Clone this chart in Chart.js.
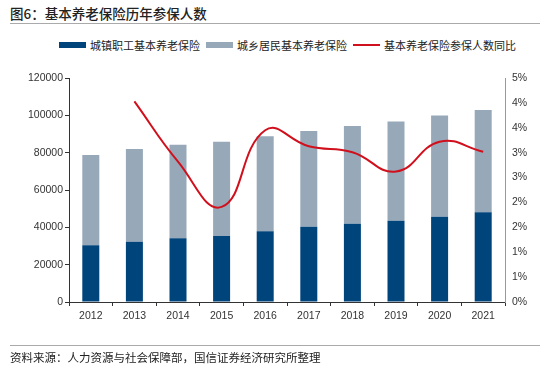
<!DOCTYPE html>
<html>
<head>
<meta charset="utf-8">
<script src="https://cdn.jsdelivr.net/npm/chart.js@4"></script>
<style>
  html, body { margin: 0; padding: 0; background: #fff; }
  body { width: 550px; height: 374px; position: relative; overflow: hidden;
         font-family: "Noto Sans CJK SC", "Liberation Sans", sans-serif; color: #222; }
  #title { position: absolute; left: 10px; top: 3px; font-size: 13.5px; font-weight: 500; }
  .rule { position: absolute; left: 10px; width: 530px; height: 1px; background: #aaa; }
  #legend { position: absolute; top: 37px; left: 59px; font-size: 11px; display: flex; align-items: center; white-space: nowrap; }
  #legend span.key { display: inline-block; width: 27px; margin-right: 4px; }
  #legend span.txt { margin-right: 6px; }
  #source { position: absolute; left: 10px; top: 349px; font-size: 11.5px; }
  #wrap { position: absolute; left: 0; top: 0; width: 550px; height: 374px; }
</style>
</head>
<body>
<div id="title">图6：基本养老保险历年参保人数</div>
<div class="rule" style="top:23px"></div>
<div id="legend">
  <span class="key" style="height:6px;background:#00447c"></span><span class="txt">城镇职工基本养老保险</span>
  <span class="key" style="height:6px;background:#97a8b8"></span><span class="txt">城乡居民基本养老保险</span>
  <span class="key" style="height:2px;background:#d0101c"></span><span class="txt">基本养老保险参保人数同比</span>
</div>
<div id="wrap"><canvas id="chart"></canvas></div>
<div class="rule" style="top:345px"></div>
<div id="source">资料来源：人力资源与社会保障部，国信证券经济研究所整理</div>
<script>
/* ============================================================
   DATA
============================================================ */
const years = ['2012', '2013', '2014', '2015', '2016', '2017', '2018', '2019', '2020', '2021'];
const urbanEmployees = [30427, 32218, 34124, 35361, 37930, 40293, 41902, 43488, 45621, 48074];
const urbanRural = [48370, 49750, 50107, 50472, 50847, 51255, 52392, 53266, 54244, 54797];
const yoyGrowth = [null, 4.03, 2.82, 1.91, 3.45, 3.13, 3.01, 2.62, 3.22, 3.02]; // %
const leftTicks = [0, 20000, 40000, 60000, 80000, 100000, 120000];
const rightTicks = [0, 0.5, 1, 1.5, 2, 2.5, 3, 3.5, 4, 4.5]; // 显示时四舍五入为整数%

/* ============================================================
   CHART
============================================================ */
const tickFont = { family: "'Liberation Sans', Arial, sans-serif", size: 10.5 };

new Chart(document.getElementById('chart'), {
  data: {
    labels: years,
    datasets: [
      {
        type: 'line', label: '基本养老保险参保人数同比', data: yoyGrowth,
        yAxisID: 'yR', borderColor: '#d0101c', borderWidth: 2,
        pointRadius: 0, tension: 0.45, order: 0
      },
      {
        type: 'bar', label: '城镇职工基本养老保险', data: urbanEmployees,
        backgroundColor: '#00447c', yAxisID: 'y', stack: 's', order: 1,
        barPercentage: 0.39, categoryPercentage: 1
      },
      {
        type: 'bar', label: '城乡居民基本养老保险', data: urbanRural,
        backgroundColor: '#97a8b8', yAxisID: 'y', stack: 's', order: 1,
        barPercentage: 0.39, categoryPercentage: 1
      }
    ]
  },
  options: {
    responsive: true,
    maintainAspectRatio: false,
    animation: false,
    layout: { padding: { top: 78, left: 0, right: 0, bottom: 42 } },
    plugins: { legend: { display: false }, tooltip: { enabled: false } },
    scales: {
      x: {
        stacked: true,
        grid: { display: true, offset: true, drawOnChartArea: false, tickLength: 4, color: '#333' },
        border: { color: '#333', width: 1 },
        ticks: { color: '#333', font: tickFont, padding: 4 },
        afterFit: s => { s.height = 30; }
      },
      y: {
        position: 'left', stacked: true, min: 0, max: 120000,
        afterBuildTicks: s => { s.ticks = leftTicks.map(v => ({ value: v })); },
        grid: { drawOnChartArea: false, tickLength: 4, color: '#333' },
        border: { color: '#333', width: 1 },
        ticks: { color: '#333', font: tickFont, padding: 2, callback: v => String(v) },
        afterFit: s => { s.width = 69; }
      },
      yR: {
        position: 'right', min: 0, max: 4.5,
        afterBuildTicks: s => { s.ticks = rightTicks.map(v => ({ value: v })); },
        grid: { drawOnChartArea: false, drawTicks: false },
        border: { color: '#999', width: 1 },
        ticks: { color: '#333', font: tickFont, padding: 7,
                 callback: v => Math.round(v) + '%' },
        afterFit: s => { s.width = 45; }
      }
    }
  }
});
</script>
</body>
</html>
